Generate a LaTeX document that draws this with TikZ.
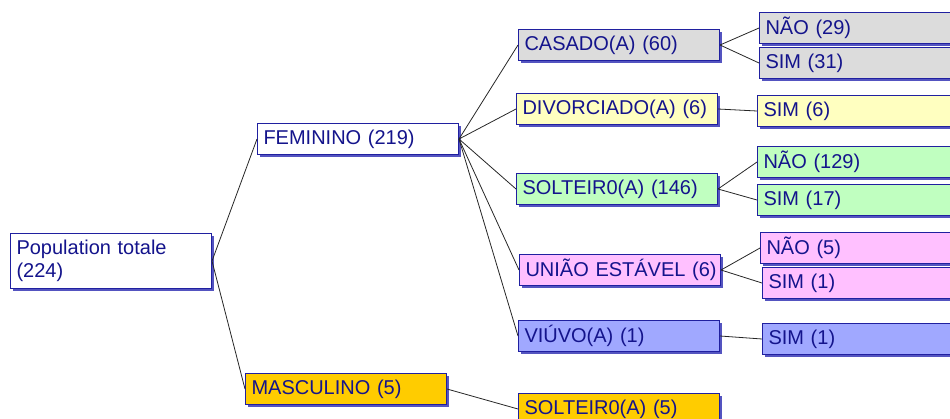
\documentclass[tikz,border=0pt]{standalone}
\usepackage{fontspec}
\setmainfont{Liberation Sans}
\usetikzlibrary{shadows}
\definecolor{boxline}{RGB}{32,32,160}
\definecolor{shadowblue}{RGB}{84,84,192}
\definecolor{labelblue}{RGB}{20,20,140}
\definecolor{greyfill}{RGB}{220,220,220}
\definecolor{yellowfill}{RGB}{255,255,192}
\definecolor{greenfill}{RGB}{192,255,192}
\definecolor{pinkfill}{RGB}{255,192,255}
\definecolor{bluefill}{RGB}{160,168,255}
\definecolor{goldfill}{RGB}{255,204,0}
\tikzset{
    treebox/.style={draw=boxline, line width=1pt, rectangle, anchor=north west,
        minimum width=201pt, minimum height=31pt, text width=189pt, inner xsep=6pt,
        inner ysep=0pt, align=left, text=labelblue,
        font=\fontsize{20}{23}\selectfont,
        drop shadow={shadow xshift=2pt, shadow yshift=-2pt, fill=shadowblue, opacity=1}},
    link/.style={draw=black!85, line width=0.8pt}
}
\newcommand\TreeBox[5]{%
    \node[treebox, fill=#4] (#1) at (#2,#3) {\mbox{#5}};
}

\begin{document}
\begin{tikzpicture}[x=1pt, y=-1pt]
    \useasboundingbox (0,0) rectangle (950,418);
    \clip (0,0) rectangle (950,418);
    % root and sex
    \node[treebox, fill=white, minimum height=55pt] (pop) at (10,233) {Population totale\\(224)};
    \TreeBox{fem}{257}{123}{white}{FEMININO (219)}
    \TreeBox{masc}{245}{373}{goldfill}{MASCULINO (5)}
    % civil status
    \TreeBox{cas}{518}{29}{greyfill}{CASADO(A) (60)}
    \TreeBox{div}{516}{93}{yellowfill}{DIVORCIADO(A) (6)}
    \TreeBox{sol}{516}{173}{greenfill}{SOLTEIR0(A) (146)}
    \TreeBox{uni}{519}{254}{pinkfill}{UNIÃO ESTÁVEL (6)}
    \TreeBox{viu}{518}{320}{bluefill}{VIÚVO(A) (1)}
    \TreeBox{solm}{518}{393}{goldfill}{SOLTEIR0(A) (5)}
    % answers
    \TreeBox{casn}{759}{12}{greyfill}{NÃO (29)}
    \TreeBox{cass}{759}{47}{greyfill}{SIM (31)}
    \TreeBox{divs}{757}{95}{yellowfill}{SIM (6)}
    \TreeBox{soln}{757}{146}{greenfill}{NÃO (129)}
    \TreeBox{sols}{757}{184}{greenfill}{SIM (17)}
    \TreeBox{unin}{760}{232}{pinkfill}{NÃO (5)}
    \TreeBox{unis}{762}{267}{pinkfill}{SIM (1)}
    \TreeBox{vius}{762}{323}{bluefill}{SIM (1)}
    \foreach \p/\c in {pop/fem, pop/masc, fem/cas, fem/div, fem/sol, fem/uni, fem/viu,
        masc/solm, cas/casn, cas/cass, div/divs, sol/soln, sol/sols, uni/unin, uni/unis, viu/vius}
        \draw[link] (\p.east) -- (\c.west);
\end{tikzpicture}
\end{document}
